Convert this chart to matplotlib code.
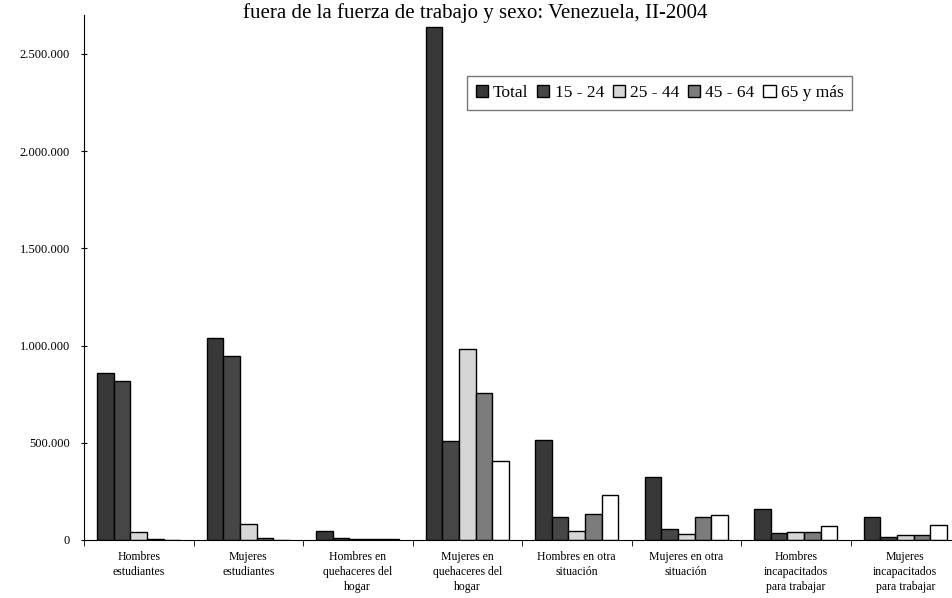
import matplotlib.pyplot as plt
import matplotlib.ticker as mticker
import numpy as np

# Grupos de la poblacion fuera de la fuerza de trabajo
categorias = ['Hombres\nestudiantes', 'Mujeres\nestudiantes',
              'Hombres en\nquehaceres del\nhogar', 'Mujeres en\nquehaceres del\nhogar',
              'Hombres en otra\nsituación', 'Mujeres en otra\nsituación',
              'Hombres\nincapacitados\npara trabajar', 'Mujeres\nincapacitados\npara trabajar']

series = ['Total', '15 - 24', '25 - 44', '45 - 64', '65 y más']

total = [860000, 1040000, 45000, 2640000, 514000, 324000, 159000, 118000]
edad_15_24 = [818000, 946000, 8000, 510000, 118000, 56000, 36000, 16000]
edad_25_44 = [40000, 83000, 7000, 982000, 46000, 31000, 42000, 26000]
edad_45_64 = [3000, 10000, 7000, 756000, 134000, 118000, 42000, 26000]
edad_65 = [1000, 2000, 6000, 406000, 231000, 128000, 73000, 77000]

valores = [total, edad_15_24, edad_25_44, edad_45_64, edad_65]
colores = ['#383838', '#464646', '#d6d6d6', '#7c7c7c', '#ffffff']

plt.rcParams['font.family'] = ['Liberation Serif', 'DejaVu Serif']

fig = plt.figure(figsize=(9.52, 5.98), dpi=100)
ax = fig.add_axes([84 / 952, 1 - 540 / 598, 876 / 952, 525 / 598])

x = np.arange(len(categorias))
ancho = 0.152
for i, (nombre, vals, col) in enumerate(zip(series, valores, colores)):
    ax.bar(x + (i - 2) * ancho, vals, width=ancho, color=col, edgecolor='black',
           linewidth=1.0, label=nombre)

ax.set_xlim(-0.5, len(categorias) - 0.5)
ax.set_ylim(0, 2700000)
ax.set_yticks([0, 500000, 1000000, 1500000, 2000000, 2500000])
ax.yaxis.set_major_formatter(mticker.FuncFormatter(lambda v, p: f'{int(v):,}'.replace(',', '.')))

ax.set_xticks(x)
ax.set_xticklabels(categorias, fontsize=8.5, linespacing=1.3)
ax.set_xticks(np.arange(-0.5, len(categorias)), minor=True)
ax.tick_params(axis='x', which='major', length=0, pad=8)
ax.tick_params(axis='x', which='minor', length=4, direction='out')
ax.tick_params(axis='y', length=4, direction='inout', labelsize=9, pad=8)

for s in ['top', 'right']:
    ax.spines[s].set_visible(False)

leg = ax.legend(ncol=5, loc='upper left', bbox_to_anchor=(383 / 876, 1 - 61 / 525),
                borderaxespad=0, fontsize=12.5, frameon=True, fancybox=False,
                edgecolor='#555555', handlelength=0.7, handleheight=0.7,
                handletextpad=0.3, columnspacing=0.5, borderpad=0.5)
leg.get_frame().set_linewidth(1.0)

fig.text(475 / 952, 1 - 13 / 598, 'fuera de la fuerza de trabajo y sexo: Venezuela, II-2004',
         ha='center', va='center', fontsize=15)

fig.savefig('out.png', dpi=100)
